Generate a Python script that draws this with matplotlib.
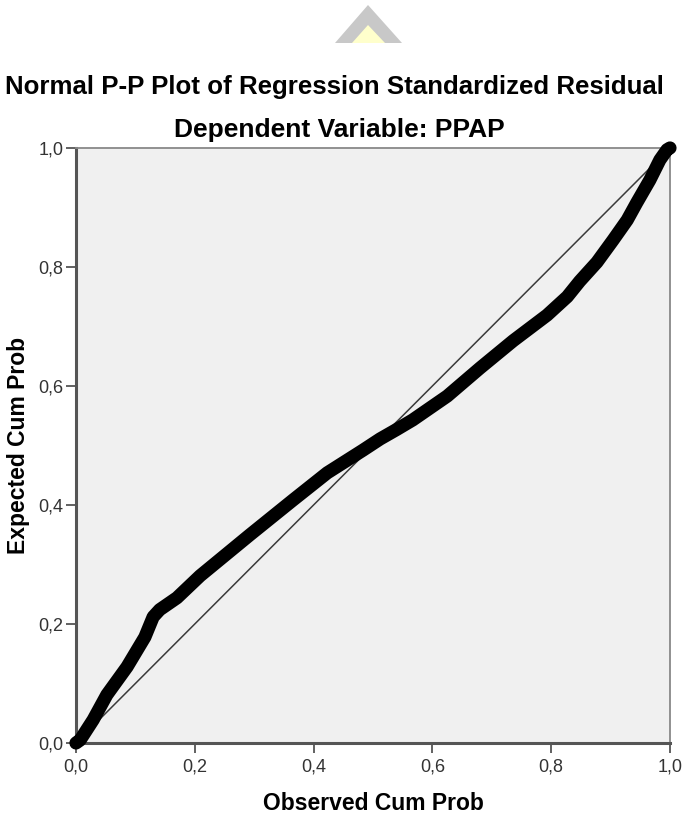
import numpy as np
import matplotlib
matplotlib.use('Agg')
import matplotlib.pyplot as plt
from matplotlib.patches import Polygon

plt.rcParams['font.family'] = ['Liberation Sans', 'DejaVu Sans']

# observed vs expected cumulative probability
observed = [0.0, 0.007, 0.029, 0.052, 0.086, 0.116, 0.130, 0.141, 0.170, 0.209,
            0.293, 0.365, 0.423, 0.483, 0.512, 0.540, 0.567, 0.625, 0.680, 0.736,
            0.793, 0.827, 0.848, 0.877, 0.904, 0.928, 0.944, 0.966, 0.983, 0.995, 1.0]
expected = [0.0, 0.005, 0.039, 0.081, 0.128, 0.178, 0.212, 0.224, 0.244, 0.281,
            0.350, 0.408, 0.454, 0.492, 0.511, 0.527, 0.543, 0.583, 0.630, 0.676,
            0.719, 0.750, 0.776, 0.808, 0.845, 0.879, 0.908, 0.946, 0.980, 0.997, 1.0]
ref_line = [0.0, 1.0]
ticks = [0.0, 0.2, 0.4, 0.6, 0.8, 1.0]
tick_labels = ['0,0', '0,2', '0,4', '0,6', '0,8', '1,0']

fig = plt.figure(figsize=(6.82, 8.18), dpi=100)
ax = fig.add_axes([0.1114, 0.0917, 0.871, 0.7274])
ax.set_facecolor('#f0f0f0')

ax.plot(ref_line, ref_line, color='#3a3a3a', lw=1.1, zorder=2)
ax.plot(observed, expected, color='black', lw=9.5, solid_capstyle='round',
        solid_joinstyle='round', zorder=3, clip_on=False)

ax.set_xlim(0, 1)
ax.set_ylim(0, 1)
ax.set_xticks(ticks, labels=tick_labels)
ax.set_yticks(ticks, labels=tick_labels)
ax.tick_params(direction='out', length=7, width=1.3, color='#555555',
               labelsize=13, labelcolor='#333333', pad=2)
ax.tick_params(axis='x', pad=4)

for side in ['left', 'bottom']:
    ax.spines[side].set_color('#555555')
    ax.spines[side].set_linewidth(2.2)
for side in ['top', 'right']:
    ax.spines[side].set_color('#888888')
    ax.spines[side].set_linewidth(1.3)

ax.set_xlabel('Observed Cum Prob', fontsize=16.5, fontweight='bold', labelpad=12)
ax.set_ylabel('Expected Cum Prob', fontsize=16.5, fontweight='bold', labelpad=6)

fig.text(0.49, 0.894, 'Normal P-P Plot of Regression Standardized Residual',
         ha='center', va='center', fontsize=18.6, fontweight='bold')
fig.text(0.497, 0.841, 'Dependent Variable: PPAP',
         ha='center', va='center', fontsize=19, fontweight='bold')

# faint logo watermark at the top
W, H = 682, 818
outer = [(335 / W, 1 - 43 / H), (368 / W, 1 - 5 / H), (402 / W, 1 - 43 / H)]
inner = [(352 / W, 1 - 43 / H), (368 / W, 1 - 25 / H), (385 / W, 1 - 43 / H)]
fig.patches.append(Polygon(outer, closed=True, transform=fig.transFigure,
                           facecolor='#c8c8c8', edgecolor='none'))
fig.patches.append(Polygon(inner, closed=True, transform=fig.transFigure,
                           facecolor='#ffffcc', edgecolor='none'))

fig.savefig('out.png', dpi=100)
